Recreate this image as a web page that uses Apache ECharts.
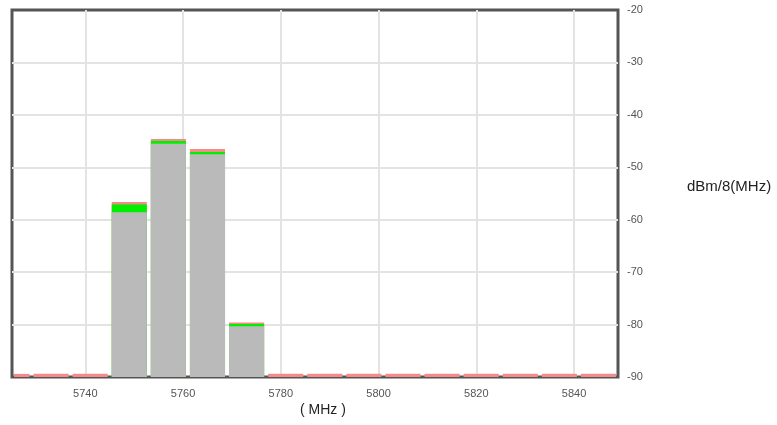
<!DOCTYPE html>
<html>
<head>
<meta charset="utf-8">
<script src="https://cdn.jsdelivr.net/npm/echarts@6/dist/echarts.min.js"></script>
<style>
  html, body { margin: 0; padding: 0; background: #fff; }
  #spectrum { width: 777px; height: 425px; }
</style>
</head>
<body>
<div id="spectrum"></div>
<script>
// channel edges (MHz), 8 MHz wide, first one clipped by the axis
var chanLow  = [5725, 5729, 5737, 5745, 5753, 5761, 5769, 5777, 5785, 5793, 5801, 5809, 5817, 5825, 5833, 5841];
var chanHigh = [5729, 5737, 5745, 5753, 5761, 5769, 5777, 5785, 5793, 5801, 5809, 5817, 5825, 5833, 5841, 5849];
// peak hold (red), green level, current level (gray) in dBm/8MHz
var peakVals  = [-89.4, -89.4, -89.4, -56.6, -44.6, -46.5, -79.6, -89.4, -89.4, -89.4, -89.4, -89.4, -89.4, -89.4, -89.4, -89.4];
var greenVals = [-90, -90, -90, -57.1, -45.0, -47.1, -79.9, -90, -90, -90, -90, -90, -90, -90, -90, -90];
var grayVals  = [-90, -90, -90, -58.6, -45.5, -47.5, -80.3, -90, -90, -90, -90, -90, -90, -90, -90, -90];
var yTicks = [-90, -20, 10];

var chart = echarts.init(document.getElementById('spectrum'));

var seriesData = chanLow.map(function (lo, i) {
  return [lo, chanHigh[i], peakVals[i], greenVals[i], grayVals[i]];
});

function renderChannel(params, api) {
  var lo = api.value(0), hi = api.value(1);
  var base = api.coord([lo, yTicks[0]]);
  var right = api.coord([hi, yTicks[0]])[0];
  var x0 = base[0] + 2;
  var w = right - base[0] - 4;
  var levels = [
    { v: api.value(2), color: '#f58a8a' },
    { v: api.value(3), color: '#00f000' },
    { v: api.value(4), color: '#bababa' }
  ];
  var children = levels.map(function (l) {
    var top = api.coord([lo, l.v])[1];
    return {
      type: 'rect',
      shape: { x: x0, y: top, width: w, height: base[1] - top },
      style: { fill: l.color }
    };
  });
  return { type: 'group', children: children };
}

var option = {
  animation: false,
  grid: {
    left: 12,
    top: 10,
    width: 606,
    height: 367,
    show: true,
    borderColor: '#555',
    borderWidth: 3,
    backgroundColor: '#fff'
  },
  xAxis: {
    type: 'value',
    min: 5725,
    max: 5849,
    splitNumber: 6,
    axisLine: { show: false },
    axisTick: { show: false },
    axisLabel: {
      showMinLabel: false,
      showMaxLabel: false,
      formatter: function (v) { return String(v); },
      color: '#555',
      fontSize: 11,
      fontFamily: 'Liberation Sans, Arial, sans-serif',
      margin: 11
    },
    splitLine: {
      showMinLine: false,
      showMaxLine: false,
      lineStyle: { color: '#e3e3e3', width: 2 }
    }
  },
  yAxis: {
    type: 'value',
    position: 'right',
    min: yTicks[0],
    max: yTicks[1],
    interval: yTicks[2],
    axisLine: { show: false },
    axisTick: { show: false },
    axisLabel: {
      color: '#555',
      fontSize: 11,
      fontFamily: 'Liberation Sans, Arial, sans-serif',
      margin: 9
    },
    splitLine: {
      showMinLine: false,
      showMaxLine: false,
      lineStyle: { color: '#e3e3e3', width: 2 }
    }
  },
  graphic: [
    {
      type: 'text',
      left: 300,
      top: 403,
      style: {
        text: '( MHz )',
        fill: '#222',
        font: '14px Liberation Sans, Arial, sans-serif'
      }
    },
    {
      type: 'text',
      left: 687,
      top: 179,
      style: {
        text: 'dBm/8(MHz)',
        fill: '#222',
        font: '15px Liberation Sans, Arial, sans-serif'
      }
    }
  ],
  series: [
    {
      type: 'custom',
      renderItem: renderChannel,
      encode: { x: [0, 1], y: [2, 3, 4] },
      data: seriesData
    }
  ]
};

chart.setOption(option);
</script>
</body>
</html>
